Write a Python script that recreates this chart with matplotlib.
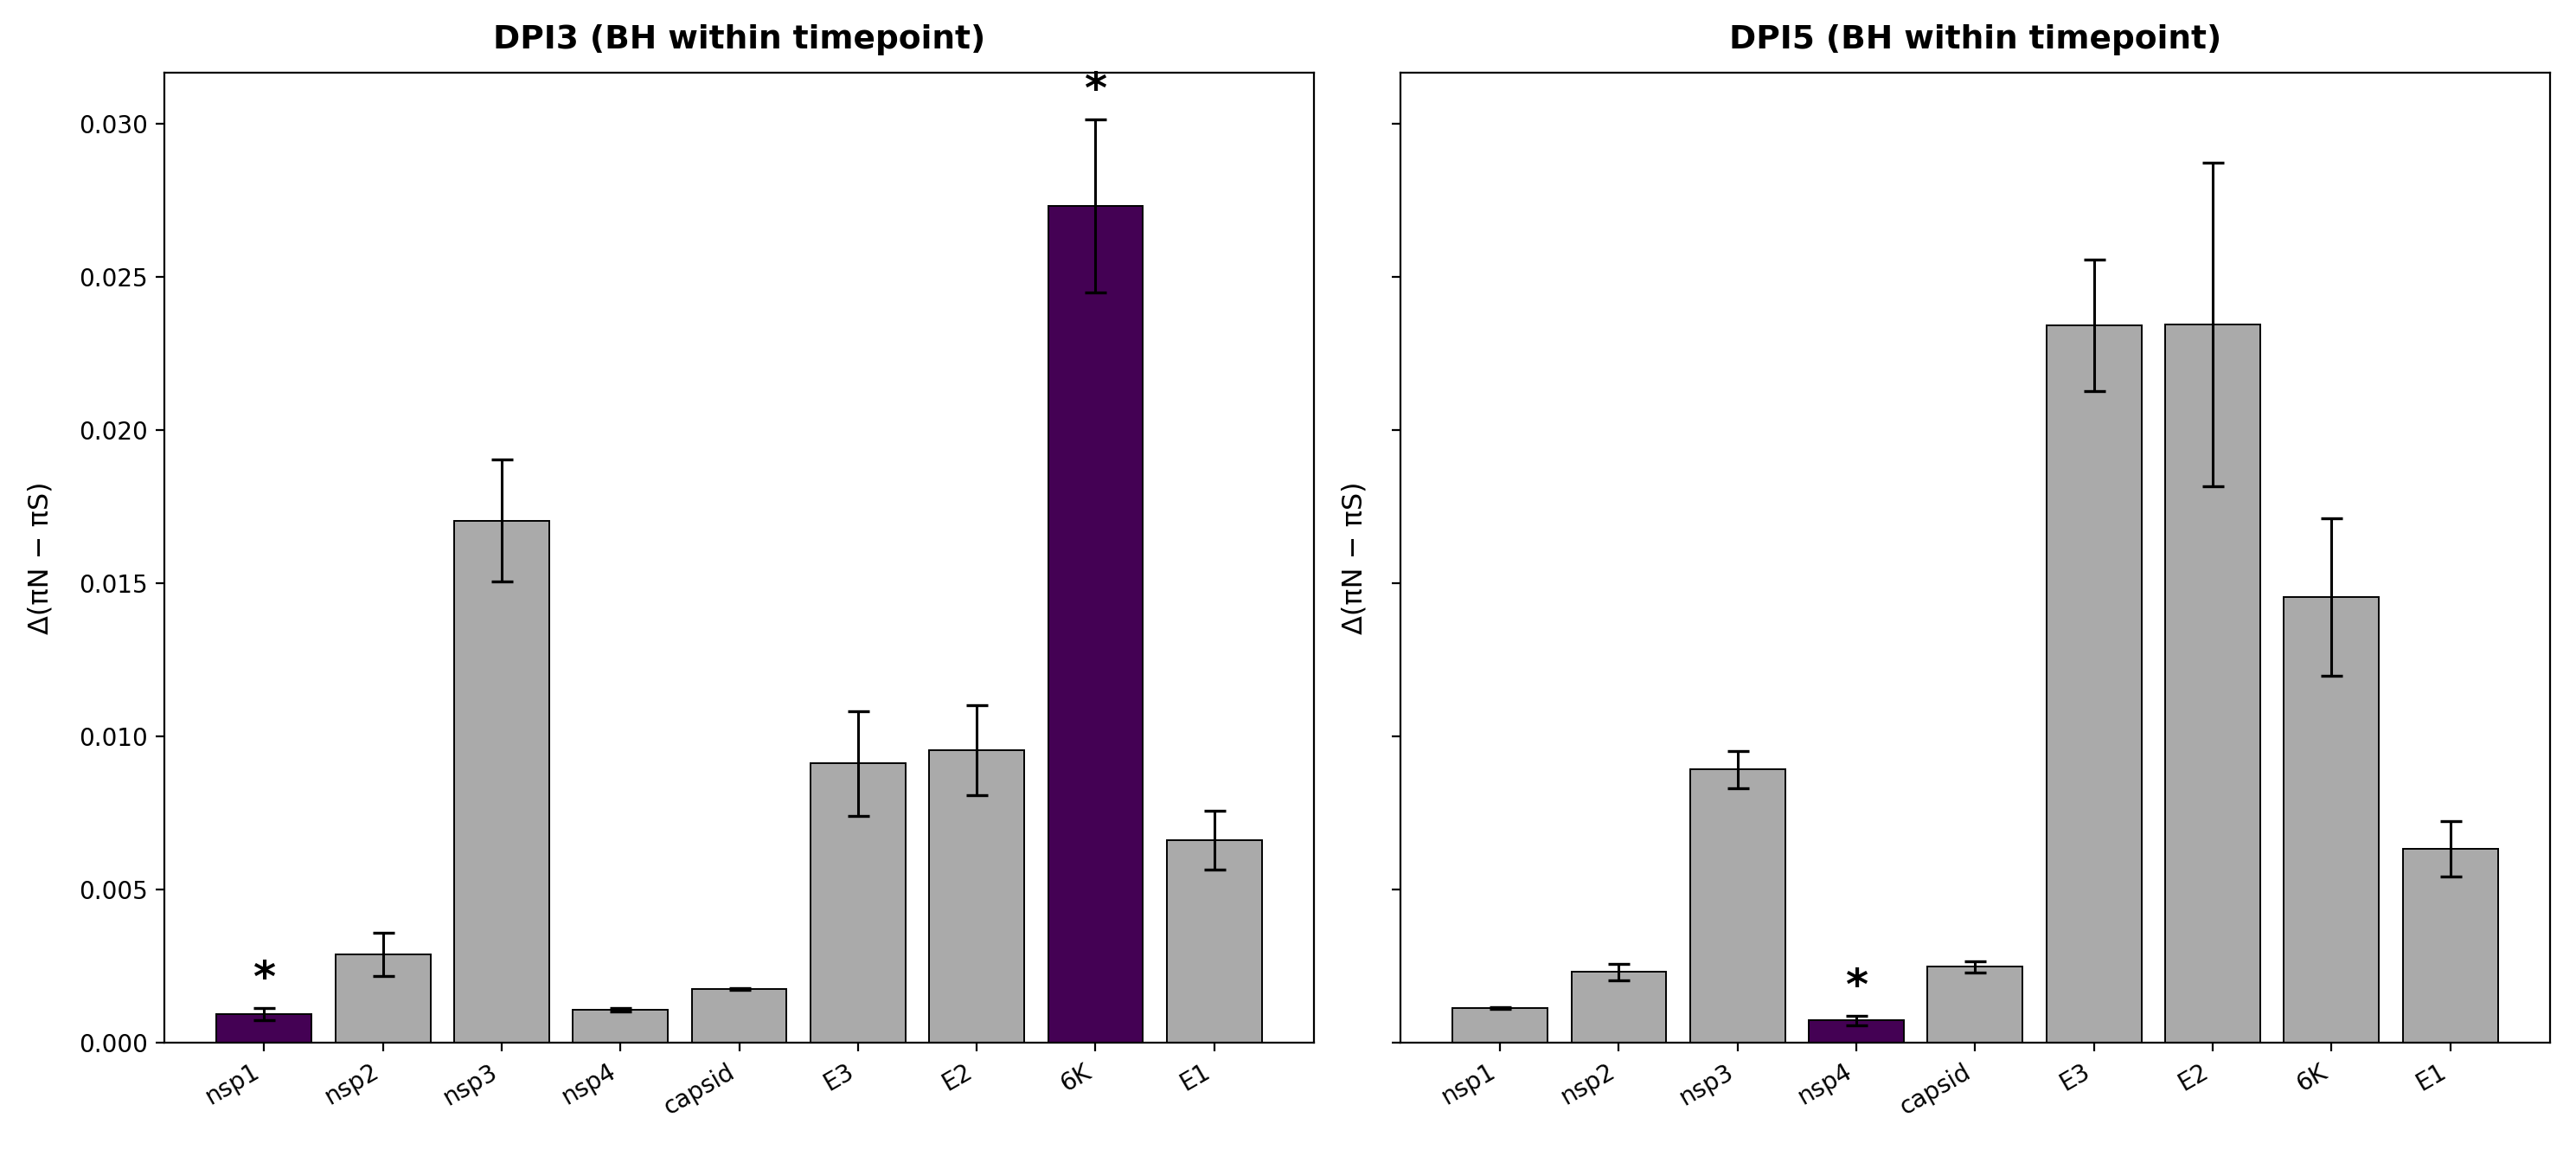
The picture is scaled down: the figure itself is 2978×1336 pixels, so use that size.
import matplotlib
matplotlib.use("Agg")
import matplotlib.pyplot as plt
import numpy as np

genes = ["nsp1", "nsp2", "nsp3", "nsp4", "capsid", "E3", "E2", "6K", "E1"]

# DPI3
dpi3_delta = [0.00094, 0.00288, 0.01704, 0.00108, 0.00175, 0.00911, 0.00954, 0.02731, 0.00661]
dpi3_err = [0.00019, 0.00070, 0.00200, 0.00006, 0.00003, 0.00170, 0.00147, 0.00283, 0.00097]
dpi3_sig = [True, False, False, False, False, False, False, True, False]

# DPI5
dpi5_delta = [0.00112, 0.00231, 0.00891, 0.00073, 0.00248, 0.02341, 0.02344, 0.01453, 0.00632]
dpi5_err = [0.00003, 0.00027, 0.00060, 0.00016, 0.00018, 0.00214, 0.00528, 0.00257, 0.00090]
dpi5_sig = [False, False, False, True, False, False, False, False, False]

panels = [
    ("DPI3 (BH within timepoint)", dpi3_delta, dpi3_err, dpi3_sig),
    ("DPI5 (BH within timepoint)", dpi5_delta, dpi5_err, dpi5_sig),
]

fig, axes = plt.subplots(1, 2, figsize=(14.89, 6.68), dpi=200, sharey=True)
fig.subplots_adjust(left=0.0638, right=0.9899, bottom=0.098, top=0.937, wspace=0.075)

x = np.arange(len(genes))
for ax, (title, vals, errs, sig) in zip(axes, panels):
    colors = ["#440154" if s else "#aaaaaa" for s in sig]
    ax.bar(x, vals, width=0.8, color=colors, edgecolor="black", linewidth=0.7)
    ax.errorbar(x, vals, yerr=errs, fmt="none", ecolor="black",
                elinewidth=1.1, capsize=4.5, capthick=1.2)
    for i, s in enumerate(sig):
        if s:
            ax.text(x[i], vals[i] + errs[i] + 0.00025, "*", ha="center", va="bottom",
                    fontsize=18, fontweight="bold")
    ax.set_title(title, fontsize=13.5, fontweight="bold", pad=10)
    ax.set_ylabel("Δ(πN − πS)", fontsize=11.5, labelpad=10)
    ax.set_xticks(x)
    ax.set_xticklabels(genes, rotation=30, ha="right")
    ax.tick_params(axis="y", labelleft=(ax is axes[0]))

plt.savefig("out.png", dpi=200)
